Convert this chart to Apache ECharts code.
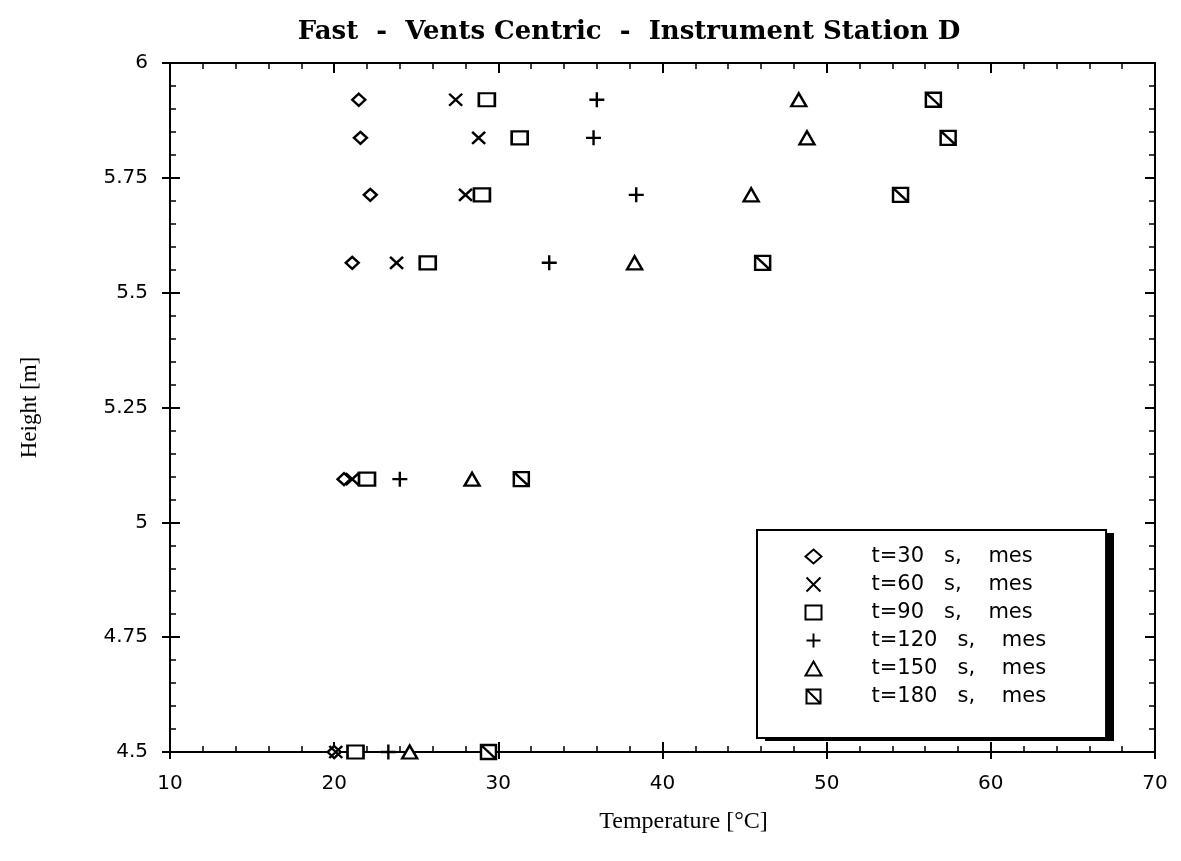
<!DOCTYPE html>
<html>
<head>
<meta charset="utf-8">
<script src="https://cdn.jsdelivr.net/npm/echarts@6/dist/echarts.min.js"></script>
<style>html,body{margin:0;padding:0;background:#fff}#c{width:1181px;height:861px}</style>
</head>
<body>
<div id="c"></div>
<script>
// Heights [m] of measurement points
const heights = [5.92, 5.837, 5.713, 5.565, 5.094, 4.5];
// Temperatures [°C] for each time step, one per height
const t30  = [21.5, 21.6, 22.2, 21.1, 20.6, 20.0];
const t60  = [27.4, 28.8, 28.0, 23.8, 21.1, 20.1];
const t90  = [29.3, 31.3, 29.0, 25.7, 22.0, 21.3];
const t120 = [36.0, 35.8, 38.4, 33.1, 24.0, 23.3];
const t150 = [48.3, 48.8, 45.4, 38.3, 28.4, 24.6];
const t180 = [56.5, 57.4, 54.5, 46.1, 31.4, 29.4];
const seriesNames = ['t=30   s,    mes', 't=60   s,    mes', 't=90   s,    mes', 't=120   s,    mes', 't=150   s,    mes', 't=180   s,    mes'];
const xTicks = [10, 20, 30, 40, 50, 60, 70];
const yTicks = [4.5, 4.75, 5, 5.25, 5.5, 5.75, 6];

const symbols = [
  {symbol: 'diamond', size: [13, 12], fill: '#fff'},
  {symbol: 'path://M0,0L10,10M10,0L0,10', size: [13, 12], fill: 'none'},
  {symbol: 'rect', size: [16, 13], fill: '#fff'},
  {symbol: 'path://M5,0L5,10M0,5L10,5', size: [15, 15], fill: 'none'},
  {symbol: 'triangle', size: [15, 13], fill: '#fff'},
  {symbol: 'path://M0,0L10,0L10,10L0,10ZM0,0L10,10', size: [15, 14], fill: '#fff'}
];
const allData = [t30, t60, t90, t120, t150, t180];

const chart = echarts.init(document.getElementById('c'), null, {renderer: 'canvas'});
const axisFont = {fontFamily: 'DejaVu Sans', fontSize: 20, color: '#000'};
const lineStyle = {color: '#000', width: 2};

const series = allData.map((arr, i) => ({
  name: seriesNames[i],
  type: 'scatter',
  xAxisIndex: 0,
  yAxisIndex: 0,
  symbol: symbols[i].symbol,
  symbolSize: symbols[i].size,
  itemStyle: {color: symbols[i].fill, borderColor: '#000', borderWidth: 2.4, opacity: 1},
  emphasis: {disabled: true},
  data: arr.map((v, k) => [v, heights[k]])
}));

const xCommon = {type: 'value', min: 10, max: 70, interval: 10, splitLine: {show: false}, axisLine: {show: true, onZero: false, lineStyle: lineStyle}};
const yCommon = {type: 'value', min: 4.5, max: 6, interval: 0.25, splitLine: {show: false}, axisLine: {show: true, onZero: false, lineStyle: lineStyle}};

chart.setOption({
  animation: false,
  backgroundColor: '#fff',
  title: {
    text: 'Fast  -  Vents Centric  -  Instrument Station D',
    left: 624, top: 14, textAlign: 'center',
    textStyle: {fontFamily: 'DejaVu Serif', fontWeight: 'bold', fontSize: 26, color: '#000'}
  },
  grid: {left: 170, right: 26, top: 63, bottom: 109, containLabel: false},
  graphic: [{
    type: 'rect', z: 1, silent: true,
    shape: {x: 765, y: 533, width: 349, height: 208},
    style: {fill: '#000'}
  }],
  legend: {
    orient: 'vertical',
    left: 757, top: 530, z: 5,
    data: seriesNames,
    itemWidth: 16, itemHeight: 14, itemGap: 7,
    padding: [16, 60, 31, 47],
    backgroundColor: '#fff',
    borderColor: '#000', borderWidth: 2,
    selectedMode: false,
    textStyle: {fontFamily: 'DejaVu Sans', fontSize: 21, color: '#000', lineHeight: 21, padding: [0, 0, 0, 45]}
  },
  xAxis: [
    Object.assign({}, xCommon, {position: 'bottom', name: 'Temperature [°C]', nameLocation: 'middle', nameGap: 58,
      nameTextStyle: {fontFamily: 'Liberation Serif', fontSize: 24, color: '#000', padding: [0, 0, 0, 42]},
      axisTick: {show: true, inside: false, length: 7, lineStyle: lineStyle},
      axisLabel: Object.assign({margin: 22, formatter: v => String(v)}, axisFont)}),
    Object.assign({}, xCommon, {position: 'bottom', axisLabel: {show: false},
      axisTick: {show: true, inside: true, length: 10, lineStyle: lineStyle},
      minorTick: {show: true, splitNumber: 5, length: 6, lineStyle: {color: '#000', width: 1.5}}}),
    Object.assign({}, xCommon, {position: 'top', axisLabel: {show: false},
      axisTick: {show: true, inside: true, length: 10, lineStyle: lineStyle},
      minorTick: {show: true, splitNumber: 5, length: 6, lineStyle: {color: '#000', width: 1.5}}})
  ],
  yAxis: [
    Object.assign({}, yCommon, {position: 'left', name: 'Height [m]', nameLocation: 'middle', nameGap: 129,
      nameTextStyle: {fontFamily: 'Liberation Serif', fontSize: 23, color: '#000'},
      axisTick: {show: true, inside: false, length: 8, lineStyle: lineStyle},
      axisLabel: Object.assign({margin: 22, formatter: v => String(v)}, axisFont)}),
    Object.assign({}, yCommon, {position: 'left', axisLabel: {show: false},
      axisTick: {show: true, inside: true, length: 10, lineStyle: lineStyle},
      minorTick: {show: true, splitNumber: 5, length: 6, lineStyle: {color: '#000', width: 1.5}}}),
    Object.assign({}, yCommon, {position: 'right', axisLabel: {show: false},
      axisTick: {show: true, inside: true, length: 10, lineStyle: lineStyle},
      minorTick: {show: true, splitNumber: 5, length: 6, lineStyle: {color: '#000', width: 1.5}}})
  ],
  series: series
});
</script>
</body>
</html>
